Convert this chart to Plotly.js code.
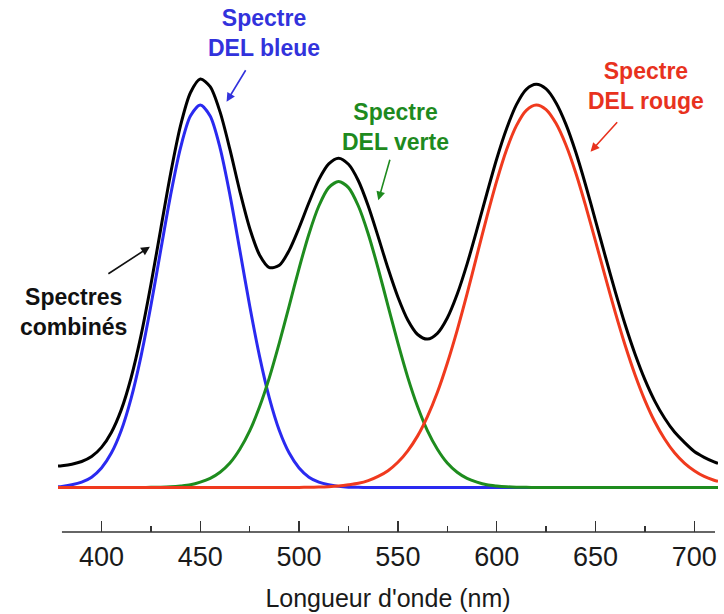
<!DOCTYPE html>
<html>
<head>
<meta charset="utf-8">
<script src="https://cdn.plot.ly/plotly-3.0.1.min.js"></script>
<style>html,body{margin:0;padding:0;background:#fff;}#chart{width:724px;height:614px;}</style>
</head>
<body>
<div id="chart"></div>
<script>
// Wavelength (nm)
const wavelength = [378,380,385,390,395,400,405,410,415,420,425,430,435,440,445,450,455,460,465,470,475,480,485,490,495,500,505,510,515,520,525,530,535,540,545,550,555,560,565,570,575,580,585,590,595,600,605,610,615,620,625,630,635,640,645,650,655,660,665,670,675,680,685,690,695,700,705,710,712];
// Relative intensity, blue LED
const blueLED = [0.002,0.003,0.007,0.014,0.027,0.051,0.090,0.149,0.233,0.343,0.475,0.621,0.765,0.888,0.971,1.000,0.971,0.888,0.765,0.621,0.475,0.343,0.233,0.149,0.090,0.051,0.027,0.014,0.007,0.003,0.001,0.0005,0.0002,0.0001,0,0,0,0,0,0,0,0,0,0,0,0,0,0,0,0,0,0,0,0,0,0,0,0,0,0,0,0,0,0,0,0,0,0,0];
// Relative intensity, green LED
const greenLED = [0,0,0,0,0,0,0,0,0,0.0002,0.0004,0.0009,0.002,0.004,0.007,0.014,0.024,0.040,0.064,0.100,0.148,0.211,0.288,0.378,0.475,0.573,0.663,0.736,0.784,0.800,0.784,0.736,0.663,0.573,0.475,0.378,0.288,0.211,0.148,0.100,0.064,0.040,0.024,0.014,0.007,0.004,0.002,0.0009,0.0004,0.0002,0,0,0,0,0,0,0,0,0,0,0,0,0,0,0,0,0,0,0];
// Relative intensity, red LED
const redLED = [0,0,0,0,0,0,0,0,0,0,0,0,0,0,0,0,0,0,0,0,0,0,0,0.0001,0.0002,0.0003,0.0006,0.0012,0.0022,0.004,0.007,0.011,0.018,0.029,0.044,0.066,0.096,0.135,0.186,0.249,0.325,0.411,0.506,0.607,0.707,0.801,0.883,0.946,0.986,1.000,0.988,0.952,0.896,0.823,0.737,0.644,0.550,0.458,0.372,0.295,0.228,0.172,0.127,0.091,0.064,0.044,0.029,0.019,0.016];
// Relative intensity, combined spectrum
const combined = [0.056,0.057,0.061,0.068,0.081,0.105,0.144,0.203,0.287,0.397,0.530,0.676,0.821,0.946,1.032,1.068,1.048,0.982,0.884,0.775,0.678,0.608,0.575,0.581,0.620,0.679,0.745,0.805,0.846,0.861,0.845,0.802,0.736,0.656,0.573,0.498,0.438,0.400,0.388,0.403,0.443,0.505,0.584,0.674,0.768,0.859,0.938,1.001,1.041,1.054,1.042,1.006,0.950,0.877,0.791,0.698,0.604,0.512,0.426,0.349,0.282,0.226,0.181,0.145,0.118,0.094,0.079,0.067,0.063];

const tickVals = [400,450,500,550,600,650,700];
const tickText = ['400','450','500','550','600','650','700'];

const FONT = '"Liberation Sans", Arial, Helvetica, sans-serif';
const BLUE = '#2a2af0', GREEN = '#1e8c1e', RED = '#f03a1e', BLACK = '#000000';

function line(y, color) {
  return {x: wavelength, y: y, type: 'scatter', mode: 'lines',
    line: {color: color, width: 3, shape: 'spline', smoothing: 0.8},
    hoverinfo: 'skip', showlegend: false};
}

const data = [line(blueLED, BLUE), line(greenLED, GREEN), line(redLED, RED), line(combined, BLACK)];

function label(x, y, text, color) {
  return {x: x, y: y, xref: 'x', yref: 'y', text: text, showarrow: false,
    font: {family: FONT, size: 23, color: color, weight: 'bold'}, align: 'center',
    xanchor: 'center', yanchor: 'middle'};
}
function arrow(x, y, ax, ay, color) {
  return {x: x, y: y, xref: 'x', yref: 'y', text: '', showarrow: true,
    ax: ax, ay: ay, arrowhead: 2, arrowsize: 1.1, arrowwidth: 1.6, arrowcolor: color, standoff: 0};
}

const layout = {
  width: 724, height: 614,
  margin: {l: 58, r: 6, t: 10, b: 82},
  paper_bgcolor: '#ffffff', plot_bgcolor: '#ffffff',
  showlegend: false,
  xaxis: {
    range: [378, 712], showgrid: false, zeroline: false, showline: false,
    tickmode: 'array', tickvals: tickVals, ticktext: tickText,
    ticks: 'inside', ticklen: 11, tickwidth: 1.5, tickcolor: '#333333',
    minor: {tickmode: 'linear', tick0: 375, dtick: 25, ticks: 'inside', ticklen: 6, tickwidth: 1.5, tickcolor: '#333333'},
    tickfont: {family: FONT, size: 27, color: '#1a1a1a'},
    ticklabelstandoff: 6,
    title: {text: "Longueur d'onde (nm)", font: {family: FONT, size: 25, color: '#1a1a1a'}, standoff: 18}
  },
  yaxis: {range: [-0.1163, 1.2484], visible: false, showgrid: false, zeroline: false},
  shapes: [
    {type: 'line', xref: 'x', yref: 'paper', x0: 380, x1: 710.5, y0: 0, y1: 0,
     line: {color: '#333333', width: 1.6}}
  ],
  annotations: [
    label(482.2, 1.1895, 'Spectre<br>DEL bleue', '#3232dc'),
    arrow(463.3, 1.0086, 20, -33, '#3232dc'),
    label(549, 0.9438, 'Spectre<br>DEL verte', '#1e8a1e'),
    arrow(540.1, 0.7508, 12, -42, '#1e8a1e'),
    label(675.6, 1.0497, 'Spectre<br>DEL rouge', '#e8321e'),
    arrow(647.5, 0.878, 28, -31, '#e8321e'),
    label(386, 0.4588, 'Spectres<br>combinés', '#111111'),
    arrow(424.5, 0.6295, -43, 28, '#111111')
  ]
};

Plotly.newPlot('chart', data, layout, {displayModeBar: false, staticPlot: true});
</script>
</body>
</html>
